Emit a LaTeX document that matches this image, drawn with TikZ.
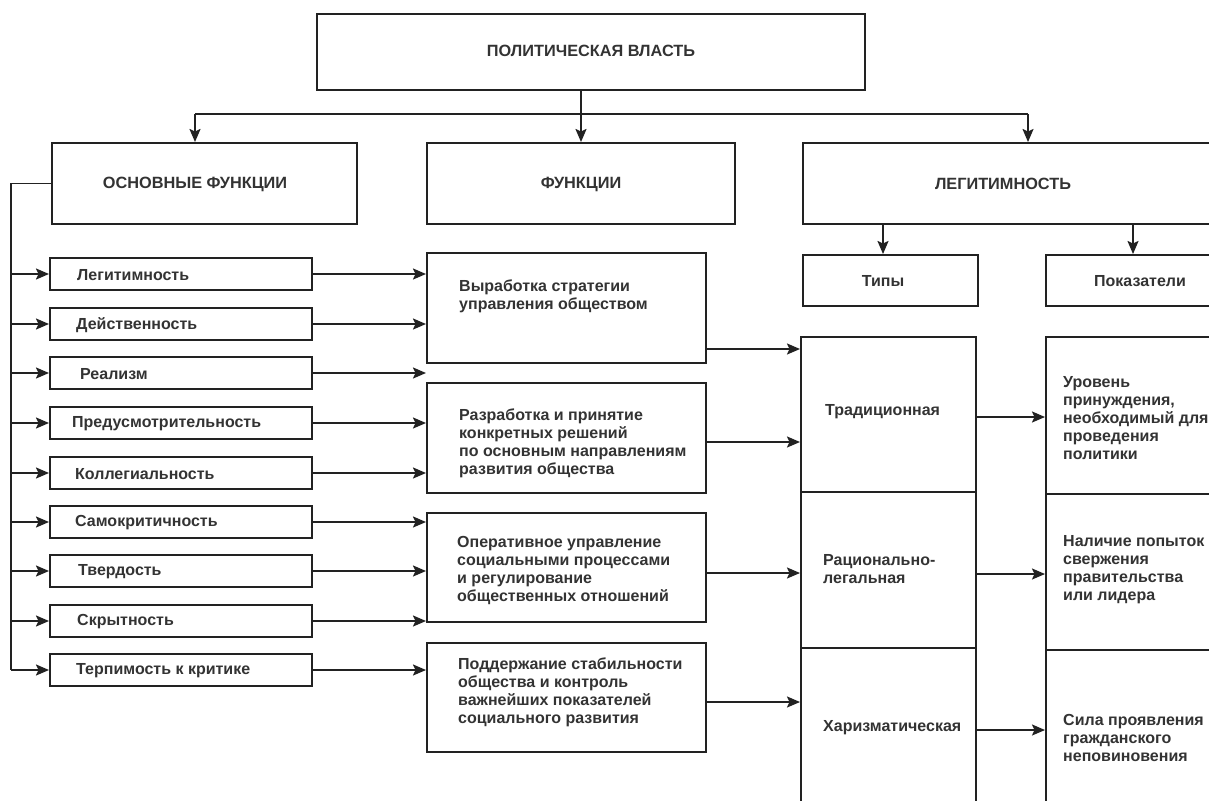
\documentclass[tikz,border=0pt]{standalone}
\usepackage{fontspec}
\setmainfont{Liberation Sans}
\usetikzlibrary{arrows.meta}
\definecolor{lc}{HTML}{222222}
\definecolor{tc}{HTML}{333333}
\tikzset{
  box/.style={draw=lc, line width=2pt, inner sep=0pt, rectangle},
  conn/.style={draw=lc, line width=1.9pt},
  arr/.style={conn, -{Stealth[length=13pt,width=11pt,inset=2.5pt]}},
  txt/.style={text=tc, inner sep=0pt, font=\bfseries\fontsize{16}{18}\selectfont, align=left},
  ttl/.style={text=tc, inner sep=0pt, font=\bfseries\fontsize{16.3}{18}\selectfont},
}
\begin{document}
\begin{tikzpicture}[x=1pt,y=-1pt]
\useasboundingbox (0,0) rectangle (1209,800);
\clip (0,0) rectangle (1209,800);
\fill[white] (0,0) rectangle (1209,800);

% top level
\node[box, minimum width=548pt, minimum height=76pt] (top) at (591,52) {};
\node[ttl] (t-top) at (591,51) {ПОЛИТИЧЕСКАЯ ВЛАСТЬ};

\node[box, minimum width=305pt, minimum height=81pt] (osn) at (204.5,183.5) {};
\node[ttl] (t-osn) at (195,184) {ОСНОВНЫЕ ФУНКЦИИ};
\node[box, minimum width=308pt, minimum height=81pt] (func) at (581,183.5) {};
\node[ttl] (t-func) at (581,184) {ФУНКЦИИ};
\node[box, minimum width=417pt, minimum height=81pt] (legit) at (1011.5,183.5) {};
\node[ttl] (t-legit) at (1003,184) {ЛЕГИТИМНОСТЬ};

\node[box, minimum width=175pt, minimum height=51pt] (types) at (890.5,280.5) {};
\node[txt] (t-types) at (883,281) {Типы};
\node[box, minimum width=179pt, minimum height=51pt] (pokaz) at (1135.5,280.5) {};
\node[txt] (t-pokaz) at (1140,281) {Показатели};

% left column
\foreach \n/\cy/\tx/\lab in {
  s1/274/77/Легитимность,
  s2/324/76/Действенность,
  s3/373/80/Реализм,
  s4/423/72/Предусмотрительность,
  s5/473/75/Коллегиальность,
  s6/522/75/Самокритичность,
  s7/571/78/Твердость,
  s8/621/77/Скрытность,
  s9/670/76/Терпимость к критике}{
  \node[box, minimum width=262pt, minimum height=32pt] (\n) at (181,\cy) {};
  \node[txt, anchor=west] (t-\n) at (\tx,\cy+1) {\lab};
}

% middle column
\node[box, minimum width=279pt, minimum height=110pt] (m1) at (566.5,308) {};
\node[txt, anchor=west] (t-m1) at (459,296) {Выработка стратегии\\управления обществом};
\node[box, minimum width=279pt, minimum height=110pt] (m2) at (566.5,438) {};
\node[txt, anchor=west] (t-m2) at (459,443) {Разработка и принятие\\конкретных решений\\по основным направлениям\\развития общества};
\node[box, minimum width=279pt, minimum height=109pt] (m3) at (566.5,567.5) {};
\node[txt, anchor=west] (t-m3) at (457,570) {Оперативное управление\\социальными процессами\\и регулирование\\общественных отношений};
\node[box, minimum width=279pt, minimum height=109pt] (m4) at (566.5,697.5) {};
\node[txt, anchor=west] (t-m4) at (458,692) {Поддержание стабильности\\общества и контроль\\важнейших показателей\\социального развития};

% types column
\node[box, minimum width=175pt, minimum height=155pt] (tr) at (888.5,414.5) {};
\node[txt, anchor=west] (t-tr) at (825,412) {Традиционная};
\node[box, minimum width=175pt, minimum height=156pt] (rac) at (888.5,570) {};
\node[txt, anchor=west] (t-rac) at (823,569) {Рационально-\\легальная};
\node[box, minimum width=175pt, minimum height=182pt] (har) at (888.5,739) {};
\node[txt, anchor=west] (t-har) at (823,728) {Харизматическая};

% indicators column
\node[box, minimum width=179pt, minimum height=157pt] (ur) at (1135.5,415.5) {};
\node[txt, anchor=west] (t-ur) at (1063,418) {Уровень\\принуждения,\\необходимый для\\проведения\\политики};
\node[box, minimum width=179pt, minimum height=156pt] (nal) at (1135.5,572) {};
\node[txt, anchor=west] (t-nal) at (1063,570) {Наличие попыток\\свержения\\правительства\\или лидера};
\node[box, minimum width=179pt, minimum height=180pt] (sila) at (1135.5,740) {};
\node[txt, anchor=west] (t-sila) at (1063,738) {Сила проявления\\гражданского\\неповиновения};

% top connectors
\draw[arr] (top.south -| func.north) -- (func.north);
\coordinate (hb) at ([yshift=-23pt]top.south);
\coordinate (oin) at ([xshift=-9.5pt]osn.north);
\coordinate (lin) at (legit.north -| 1028,0);
\draw[conn] (hb -| oin) -- (hb -| lin);
\draw[arr] (hb -| oin) -- (oin);
\draw[arr] (hb -| lin) -- (lin);

% legitimacy to types / indicators
\draw[arr] ([xshift=-7.5pt]types.north |- legit.south) -- ([xshift=-7.5pt]types.north);
\draw[arr] ([xshift=-2.5pt]pokaz.north |- legit.south) -- ([xshift=-2.5pt]pokaz.north);

% left spine
\coordinate (sp) at ([xshift=-40pt]osn.west);
\draw[conn] (osn.west) -- (sp) -- (sp |- s9.west);
\foreach \n in {s1,s2,s3,s4,s5,s6,s7,s8,s9}{
  \draw[arr] (sp |- \n.west) -- (\n.west);
}

% small boxes to middle boxes
\foreach \n in {s1,s2,s3,s4,s5,s6,s7,s8,s9}{
  \draw[arr] (\n.east) -- (\n.east -| m1.west);
}

% middle to types
\draw[arr] ([yshift=-41pt]m1.east) coordinate (a1) -- (a1 -| tr.west);
\draw[arr] ([yshift=-4pt]m2.east) coordinate (a2) -- (a2 -| tr.west);
\draw[arr] ([yshift=-5.5pt]m3.east) coordinate (a3) -- (a3 -| rac.west);
\draw[arr] ([yshift=-4.5pt]m4.east) coordinate (a4) -- (a4 -| har.west);

% types to indicators
\draw[arr] ([yshift=-2.5pt]tr.east) coordinate (b1) -- (b1 -| ur.west);
\draw[arr] ([yshift=-4pt]rac.east) coordinate (b2) -- (b2 -| nal.west);
\draw[arr] ([yshift=9pt]har.east) coordinate (b3) -- (b3 -| sila.west);
\end{tikzpicture}
\end{document}
